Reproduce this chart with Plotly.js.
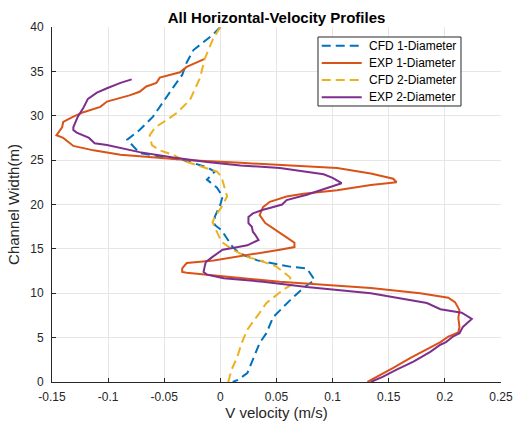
<!DOCTYPE html>
<html>
<head>
<meta charset="utf-8">
<script src="https://cdn.plot.ly/plotly-3.0.1.min.js"></script>
<style>html,body{margin:0;padding:0;background:#fff;}#chart{width:515px;height:433px;}</style>
</head>
<body>
<div id="chart"></div>
<script>
// CFD 1-Diameter
var cfd1Y = [40, 39.1, 38.3, 37.4, 36.0, 34.6, 33.2, 32.1, 29.9, 28.4, 27.3, 25.8, 25.5, 25.0, 24.2, 23.7, 22.8, 21.9, 20.9, 20.0, 18.6, 18.0, 17.7, 17.1, 15.2, 14.5, 13.7, 13.0, 12.8, 11.5, 10.6, 9.2, 7.3, 5.5, 4.4, 1.7, 1.0, 0.2, 0];
var cfd1X = [0.000, -0.007, -0.015, -0.024, -0.030, -0.034, -0.042, -0.048, -0.060, -0.072, -0.083, -0.072, -0.058, -0.033, -0.012, -0.005, -0.012, -0.003, 0.002, 0.000, -0.005, -0.004, -0.005, 0.001, 0.011, 0.017, 0.033, 0.062, 0.077, 0.084, 0.074, 0.062, 0.047, 0.041, 0.035, 0.026, 0.024, 0.015, 0.011];
// EXP 1-Diameter
var exp1Y = [36.4, 35.5, 34.9, 34.3, 33.7, 33.3, 32.7, 32.3, 31.6, 31.0, 30.4, 29.9, 29.3, 28.7, 27.8, 27.5, 26.6, 26.1, 25.6, 25.4, 25.0, 24.7, 24.4, 24.1, 23.5, 22.9, 22.5, 22.2, 21.6, 21.2, 20.9, 20.3, 19.7, 18.8, 17.9, 17.1, 16.3, 15.7, 15.2, 14.9, 14.3, 13.7, 13.4, 12.8, 12.4, 12.3, 11.3, 10.6, 10.0, 9.5, 9.0, 8.1, 7.2, 6.2, 5.6, 5.1, 4.5, 3.9, 2.7, 1.6, 0.6, 0];
var exp1X = [-0.014, -0.030, -0.036, -0.054, -0.057, -0.066, -0.072, -0.081, -0.101, -0.107, -0.122, -0.131, -0.140, -0.141, -0.146, -0.140, -0.131, -0.113, -0.089, -0.066, -0.027, 0.018, 0.060, 0.104, 0.134, 0.154, 0.157, 0.134, 0.104, 0.074, 0.059, 0.044, 0.038, 0.035, 0.040, 0.050, 0.059, 0.066, 0.066, 0.053, 0.024, -0.006, -0.030, -0.034, -0.034, -0.030, 0.053, 0.134, 0.178, 0.203, 0.209, 0.213, 0.212, 0.213, 0.212, 0.203, 0.196, 0.187, 0.169, 0.154, 0.139, 0.131];
// CFD 2-Diameter
var cfd2Y = [40, 38.8, 36.4, 34.3, 31.8, 30.3, 29.5, 28.7, 27.8, 26.7, 26.1, 25.6, 24.8, 24.2, 23.7, 23.1, 21.6, 20.9, 19.7, 18.6, 18.0, 16.8, 15.8, 14.9, 14.1, 13.7, 13.0, 11.8, 11.0, 10.4, 8.9, 7.8, 5.9, 4.4, 2.8, 1.4, 0];
var cfd2X = [0.000, -0.006, -0.014, -0.018, -0.027, -0.039, -0.048, -0.058, -0.063, -0.061, -0.054, -0.042, -0.030, -0.016, -0.003, 0.001, 0.004, 0.006, 0.001, -0.005, -0.007, -0.003, 0.001, 0.011, 0.024, 0.035, 0.050, 0.062, 0.064, 0.056, 0.041, 0.035, 0.024, 0.019, 0.015, 0.010, 0.007];
// EXP 2-Diameter
var exp2Y = [34.1, 33.7, 33.1, 32.6, 31.9, 30.9, 29.9, 28.7, 28.4, 28.1, 27.5, 26.9, 26.7, 25.9, 25.3, 24.8, 24.4, 24.1, 23.4, 23.0, 22.4, 22.0, 21.1, 20.5, 20.0, 19.6, 19.4, 19.0, 18.6, 17.9, 17.5, 16.9, 16.6, 16.0, 15.4, 15.1, 14.9, 14.1, 13.5, 13.0, 12.4, 12.1, 11.7, 11.3, 10.7, 10.0, 8.9, 8.2, 7.8, 7.1, 6.6, 6.2, 5.5, 5.1, 4.5, 4.2, 3.4, 2.3, 1.4, 0.6, 0];
var exp2X = [-0.079, -0.089, -0.101, -0.110, -0.118, -0.122, -0.127, -0.131, -0.131, -0.128, -0.117, -0.112, -0.101, -0.072, -0.042, -0.012, 0.018, 0.053, 0.092, 0.100, 0.108, 0.098, 0.077, 0.059, 0.055, 0.044, 0.038, 0.029, 0.025, 0.025, 0.028, 0.029, 0.031, 0.034, 0.024, 0.011, 0.002, -0.007, -0.013, -0.014, -0.015, -0.012, 0.003, 0.038, 0.077, 0.134, 0.184, 0.196, 0.215, 0.224, 0.220, 0.216, 0.213, 0.207, 0.201, 0.196, 0.187, 0.172, 0.157, 0.145, 0.134];

var seriesNames = ['CFD 1-Diameter', 'EXP 1-Diameter', 'CFD 2-Diameter', 'EXP 2-Diameter'];
var xTickVals = [-0.15, -0.1, -0.05, 0, 0.05, 0.1, 0.15, 0.2, 0.25];
var xTickText = ['-0.15', '-0.1', '-0.05', '0', '0.05', '0.1', '0.15', '0.2', '0.25'];
var yTickVals = [0, 5, 10, 15, 20, 25, 30, 35, 40];

var FONT = 'Liberation Sans, Arial, sans-serif';
var dashed = '9px,5px';
var colors = ['#0072BD', '#D95319', '#EDB120', '#7E2F8E'];
var dashes = [dashed, 'solid', dashed, 'solid'];
var xs = [cfd1X, exp1X, cfd2X, exp2X];
var ys = [cfd1Y, exp1Y, cfd2Y, exp2Y];

var traces = seriesNames.map(function (n, i) {
  return {x: xs[i], y: ys[i], name: n, mode: 'lines', line: {color: colors[i], width: 2, dash: dashes[i]}};
});

// custom legend box (paper coordinates)
var legX0 = 0.5924, legX1 = 0.9109, legYTop = 0.9718, legYBot = 0.7775;
var legLineX0 = 0.6007, legLineX1 = 0.6898, legTextX = 0.7009;
var legRow = (legYTop - legYBot) / 4;
var shapes = [{type: 'rect', xref: 'paper', yref: 'paper', x0: legX0, x1: legX1, y0: legYBot, y1: legYTop,
               line: {color: '#262626', width: 1}, fillcolor: '#ffffff', layer: 'above'}];
var annotations = [];
seriesNames.forEach(function (n, i) {
  var yc = legYTop - legRow * (i + 0.5);
  shapes.push({type: 'line', xref: 'paper', yref: 'paper', x0: legLineX0, x1: legLineX1, y0: yc, y1: yc,
               line: {color: colors[i], width: 2, dash: dashes[i]}, layer: 'above'});
  annotations.push({xref: 'paper', yref: 'paper', x: legTextX, y: yc, xanchor: 'left', yanchor: 'middle',
                    text: n, showarrow: false, font: {family: FONT, size: 12, color: '#000000'}});
});

var axisCommon = {
  showgrid: true, gridcolor: '#e6e6e6', gridwidth: 1,
  zeroline: false, showline: true, linecolor: '#262626', linewidth: 1,
  ticks: 'inside', ticklen: 4, tickcolor: '#262626',
  tickfont: {family: FONT, size: 12, color: '#262626'}
};

var layout = {
  width: 515, height: 433,
  margin: {l: 52, r: 14, t: 27, b: 51},
  paper_bgcolor: '#ffffff', plot_bgcolor: '#ffffff',
  font: {family: FONT, color: '#262626'},
  title: {text: '<b>All Horizontal-Velocity Profiles</b>', x: 0.537, xanchor: 'center', y: 0.958, yanchor: 'middle', yref: 'container',
          font: {family: FONT, size: 15, color: '#000000'}},
  xaxis: Object.assign({}, axisCommon, {
    range: [-0.15, 0.25], tickvals: xTickVals, ticktext: xTickText, mirror: false, ticklabelstandoff: 4,
    title: {text: 'V velocity (m/s)', font: {family: FONT, size: 15, color: '#262626'}, standoff: 4}
  }),
  yaxis: Object.assign({}, axisCommon, {
    range: [0, 40], tickvals: yTickVals, mirror: false, ticklabelstandoff: 5,
    title: {text: 'Channel Width(m)', font: {family: FONT, size: 15, color: '#262626'}, standoff: 6}
  }),
  showlegend: false,
  shapes: shapes,
  annotations: annotations
};

Plotly.newPlot('chart', traces, layout, {displayModeBar: false, staticPlot: true});
</script>
</body>
</html>
